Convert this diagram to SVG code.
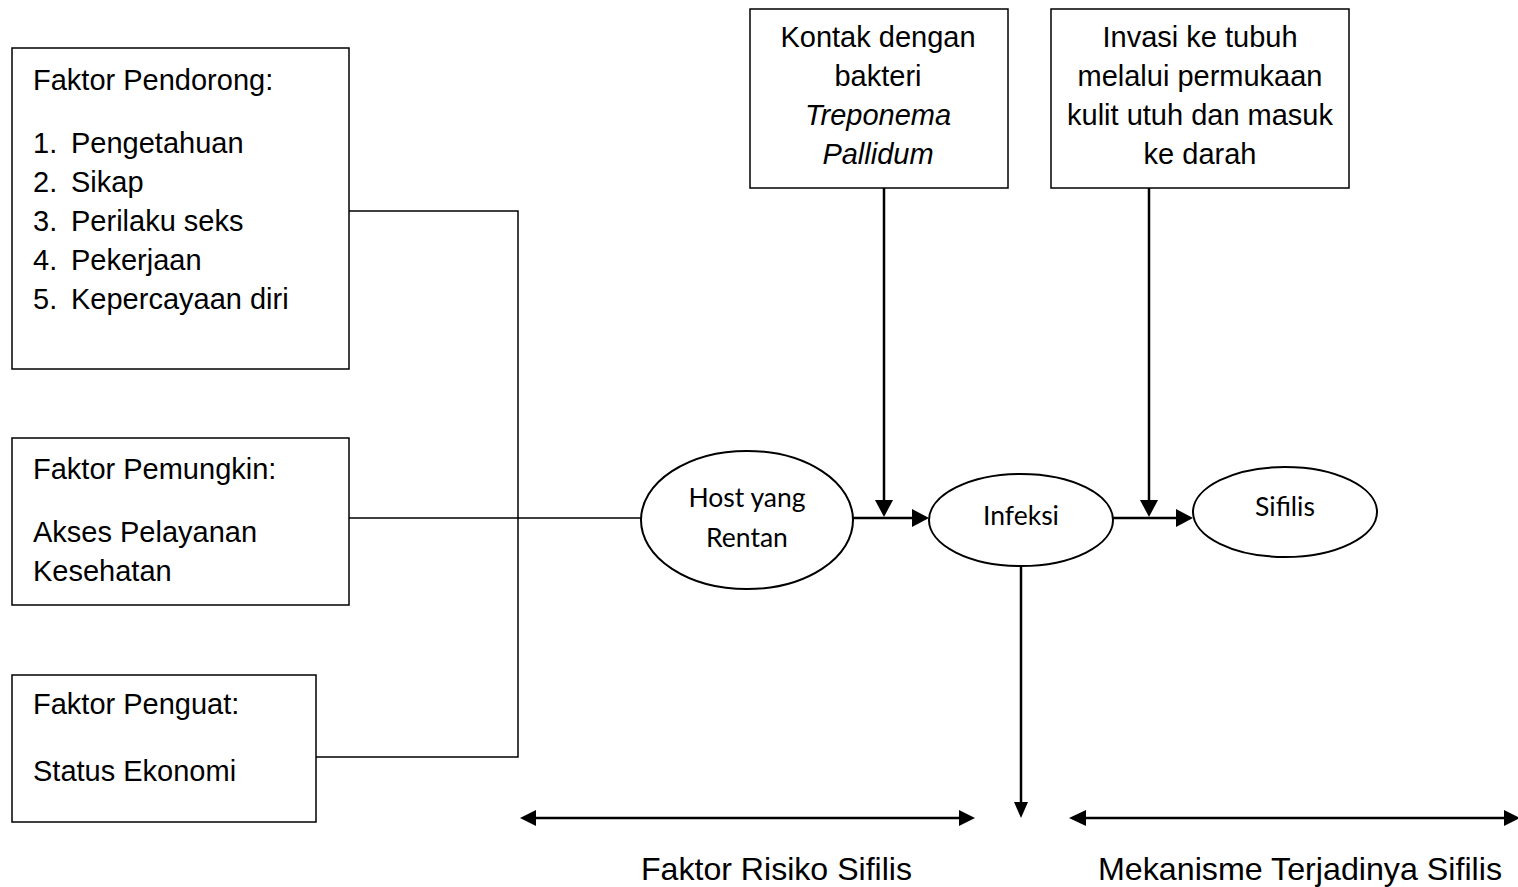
<svg xmlns="http://www.w3.org/2000/svg" width="1518" height="887" viewBox="0 0 1518 887">
<style>
.box{fill:#fff;stroke:#000;stroke-width:1.5}
.ell{fill:#fff;stroke:#000;stroke-width:2}
.t{font-family:"Liberation Sans",Arial,sans-serif;font-size:29px;fill:#000}
.c{text-anchor:middle}
.e{font-family:Lato,"Open Sans",sans-serif;font-size:26.5px;fill:#000;text-anchor:middle}
.ln{fill:none;stroke:#000;stroke-width:1.5}
.ar{fill:none;stroke:#000;stroke-width:2.5}
.lb{font-family:"Liberation Sans",Arial,sans-serif;font-size:32px;fill:#000}
</style>
<g id="connectors">
<polyline class="ln" points="349,211 518,211 518,757 316,757"/>
<line class="ln" x1="349" y1="518" x2="641" y2="518"/>
<line class="ar" x1="884" y1="188" x2="884" y2="500"/>
<path d="M875,500 L893,500 L884,517 z"/>
<line class="ar" x1="1149" y1="188" x2="1149" y2="500"/>
<path d="M1140,500 L1158,500 L1149,517 z"/>
<line class="ar" x1="853" y1="518" x2="912" y2="518"/>
<path d="M912,509 L912,527 L929,518 z"/>
<line class="ar" x1="1113" y1="518" x2="1176" y2="518"/>
<path d="M1176,509 L1176,527 L1193,518 z"/>
<line class="ar" x1="1021" y1="566" x2="1021" y2="803"/>
<path d="M1014,802 L1028,802 L1021,818 z"/>
<line class="ar" x1="533" y1="818" x2="962" y2="818"/>
<path d="M536,810 L536,826 L520,818 z"/>
<path d="M959,810 L959,826 L975,818 z"/>
<line class="ar" x1="1084" y1="818" x2="1510" y2="818"/>
<path d="M1086,810 L1086,826 L1069,818 z"/>
<path d="M1504,810 L1504,826 L1520,818 z"/>
</g>
<g id="pendorong">
<rect class="box" x="12" y="48" width="337" height="321"/>
<text class="t" x="33" y="90">Faktor Pendorong:</text>
<text class="t" x="33" y="153">1.</text><text class="t" x="71" y="153">Pengetahuan</text>
<text class="t" x="33" y="192">2.</text><text class="t" x="71" y="192">Sikap</text>
<text class="t" x="33" y="231">3.</text><text class="t" x="71" y="231">Perilaku seks</text>
<text class="t" x="33" y="270">4.</text><text class="t" x="71" y="270">Pekerjaan</text>
<text class="t" x="33" y="309">5.</text><text class="t" x="71" y="309">Kepercayaan diri</text>
</g>
<g id="pemungkin">
<rect class="box" x="12" y="438" width="337" height="167"/>
<text class="t" x="33" y="479">Faktor Pemungkin:</text>
<text class="t" x="33" y="542">Akses Pelayanan</text>
<text class="t" x="33" y="581">Kesehatan</text>
</g>
<g id="penguat">
<rect class="box" x="12" y="675" width="304" height="147"/>
<text class="t" x="33" y="714">Faktor Penguat:</text>
<text class="t" x="33" y="781">Status Ekonomi</text>
</g>
<g id="kontak">
<rect class="box" x="750" y="9" width="258" height="179"/>
<text class="t c" x="878" y="47">Kontak dengan</text>
<text class="t c" x="878" y="86">bakteri</text>
<text class="t c" x="878" y="125" font-style="italic">Treponema</text>
<text class="t c" x="878" y="164" font-style="italic">Pallidum</text>
</g>
<g id="invasi">
<rect class="box" x="1051" y="9" width="298" height="179"/>
<text class="t c" x="1200" y="47">Invasi ke tubuh</text>
<text class="t c" x="1200" y="86">melalui permukaan</text>
<text class="t c" x="1200" y="125">kulit utuh dan masuk</text>
<text class="t c" x="1200" y="164">ke darah</text>
</g>
<g id="host">
<ellipse class="ell" cx="747" cy="520" rx="106" ry="69"/>
<text class="e" x="747" y="507">Host yang</text>
<text class="e" x="747" y="547">Rentan</text>
</g>
<g id="infeksi">
<ellipse class="ell" cx="1021" cy="520" rx="92" ry="46"/>
<text class="e" x="1021" y="525">Infeksi</text>
</g>
<g id="sifilis">
<ellipse class="ell" cx="1285" cy="512" rx="92" ry="45"/>
<text class="e" x="1285" y="516">Sifilis</text>
</g>
<g id="labels">
<text class="lb" x="641" y="880" textLength="271" lengthAdjust="spacingAndGlyphs">Faktor Risiko Sifilis</text>
<text class="lb" x="1098" y="880" textLength="404" lengthAdjust="spacingAndGlyphs">Mekanisme Terjadinya Sifilis</text>
</g>
</svg>
